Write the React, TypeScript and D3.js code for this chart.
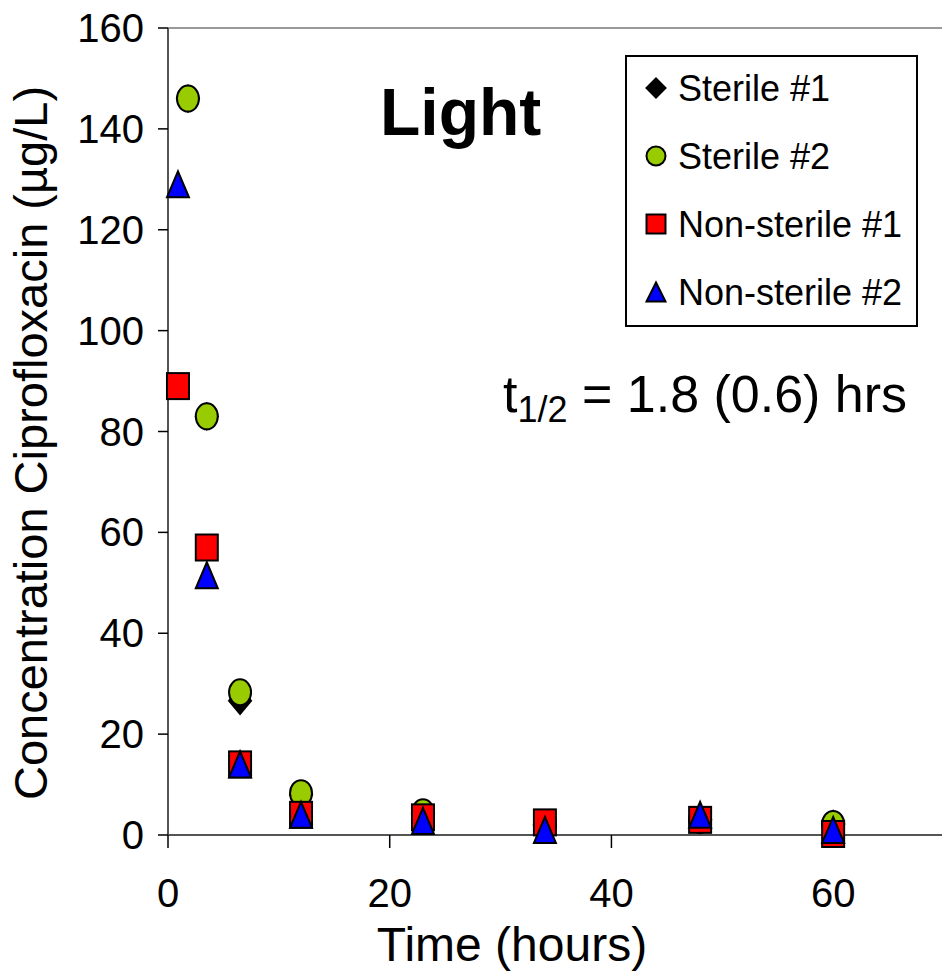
import React from "react";
import * as d3 from "d3";

const sterileTimes = [1.8, 3.5, 6.5, 12, 23, 34, 48, 60];
const nonSterileTimes = [0.9, 3.5, 6.5, 12, 23, 34, 48, 60];
const sterile1 = [146, 83, 26.6, 8, 4.2, 2, 3, 2.2];
const sterile2 = [146, 83, 28.3, 8.3, 4.5, 2, 3, 2.2];
const nonSterile1 = [89, 57, 14, 4, 3.5, 2.5, 3, 0.2];
const nonSterile2 = [129, 51.5, 14, 4, 2.8, 1, 4, 1];
const xTicks = [0, 20, 40, 60];
const yTicks = [0, 20, 40, 60, 80, 100, 120, 140, 160];
const seriesNames = ["Sterile #1", "Sterile #2", "Non-sterile #1", "Non-sterile #2"];

const W = 942;
const H = 973;
const FONT = "'Liberation Sans', Arial, sans-serif";

type Shape = "diamond" | "circle" | "square" | "triangle";

function Marker({ shape, cx, cy, w, h }: { shape: Shape; cx: number; cy: number; w: number; h: number }) {
  const sw = 2;
  if (shape === "circle") {
    return <ellipse cx={cx} cy={cy} rx={w / 2} ry={h / 2} fill="#99CC00" stroke="#000" strokeWidth={sw} />;
  }
  if (shape === "square") {
    return <rect x={cx - w / 2} y={cy - h / 2} width={w} height={h} fill="#FF0000" stroke="#000" strokeWidth={sw} />;
  }
  if (shape === "triangle") {
    const p = `${cx},${cy - h / 2} ${cx + w / 2},${cy + h / 2} ${cx - w / 2},${cy + h / 2}`;
    return <polygon points={p} fill="#0000FF" stroke="#000" strokeWidth={sw} strokeLinejoin="miter" />;
  }
  const p = `${cx},${cy - h / 2} ${cx + w / 2},${cy} ${cx},${cy + h / 2} ${cx - w / 2},${cy}`;
  return <polygon points={p} fill="#000" stroke="#000" strokeWidth={sw} />;
}

export default function App() {
  const x = d3.scaleLinear().domain([0, 70]).range([168, 944]);
  const y = d3.scaleLinear().domain([0, 160]).range([835, 28]);

  const series: { name: string; shape: Shape; times: number[]; values: number[] }[] = [
    { name: seriesNames[0], shape: "diamond", times: sterileTimes, values: sterile1 },
    { name: seriesNames[1], shape: "circle", times: sterileTimes, values: sterile2 },
    { name: seriesNames[2], shape: "square", times: nonSterileTimes, values: nonSterile1 },
    { name: seriesNames[3], shape: "triangle", times: nonSterileTimes, values: nonSterile2 },
  ];

  const mw = 22;
  const mh = 26;

  const legendX = 626;
  const legendY = 56;
  const legendW = 291;
  const legendH = 270;
  const legendRows = [88, 156, 224, 292];

  return (
    <svg width={W} height={H} style={{ position: "absolute", left: 0, top: 0, background: "#fff" }} fontFamily={FONT}>
      <rect x={0} y={0} width={W} height={H} fill="#fff" />
      <line x1={x(0)} x2={x(70)} y1={y(160)} y2={y(160)} stroke="#999" strokeWidth={2} />
      <line x1={x(0)} x2={x(70)} y1={y(0)} y2={y(0)} stroke="#555" strokeWidth={2} />
      <line x1={x(0)} x2={x(0)} y1={y(0)} y2={y(160)} stroke="#555" strokeWidth={2} />
      {yTicks.map((t) => (
        <g key={"y" + t}>
          <line x1={x(0) - 10} x2={x(0)} y1={y(t)} y2={y(t)} stroke="#000" strokeWidth={1.5} />
          <text x={x(0) - 24} y={y(t)} textAnchor="end" dominantBaseline="central" fontSize={40}>
            {t}
          </text>
        </g>
      ))}
      {xTicks.map((t) => (
        <g key={"x" + t}>
          <line x1={x(t)} x2={x(t)} y1={y(0)} y2={y(0) + 13} stroke="#000" strokeWidth={1.5} />
          <text x={x(t)} y={907} textAnchor="middle" fontSize={40}>
            {t}
          </text>
        </g>
      ))}
      <text x={512} y={961} textAnchor="middle" fontSize={48}>
        Time (hours)
      </text>
      <text transform={`translate(47,443) rotate(-90)`} textAnchor="middle" fontSize={47}>
        Concentration Ciprofloxacin (µg/L)
      </text>

      {series.map((s) =>
        s.values.map((v, i) => (
          <Marker key={s.name + i} shape={s.shape} cx={x(s.times[i])} cy={y(v)} w={mw} h={mh} />
        ))
      )}

      <text x={380} y={135} fontSize={66} fontWeight="bold">
        Light
      </text>
      <text x={503} y={412} fontSize={52}>
        t<tspan fontSize={36} dy={10}>1/2</tspan>
        <tspan dy={-10}> = 1.8 (0.6) hrs</tspan>
      </text>

      <rect x={legendX} y={legendY} width={legendW} height={legendH} fill="#fff" stroke="#000" strokeWidth={2} />
      {series.map((s, i) => (
        <g key={"lg" + i}>
          <Marker shape={s.shape} cx={656} cy={legendRows[i]} w={19} h={19} />
          <text x={678} y={legendRows[i]} dominantBaseline="central" fontSize={36}>
            {s.name}
          </text>
        </g>
      ))}
    </svg>
  );
}
